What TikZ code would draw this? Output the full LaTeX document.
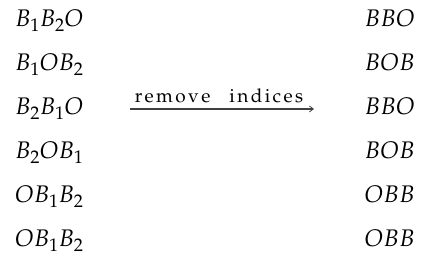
\documentclass[tikz,border=0pt]{standalone}
\usepackage[T1]{fontenc}
\usepackage{mathpazo}
\usetikzlibrary{arrows.meta}
\newcommand{\ls}[1]{\kern#1}
\begin{document}
\begin{tikzpicture}[x=1pt,y=1pt,
  word/.style={inner sep=0pt, font=\fontsize{24}{28}\selectfont},
  lbl/.style={inner sep=0pt, font=\fontsize{19}{22}\selectfont},
  mapto/.style={draw=black!75, line width=1.3pt, -{Straight Barb[length=4pt,width=6pt,line width=0.8pt]}}]
\useasboundingbox (0,0) rectangle (432,260);
% source words (with indices)
\node[word, anchor=base west] (l1) at (15,233) {$B_1B_2O$};
\node[word, anchor=base west] (l2) at (15,189) {$B_1OB_2$};
\node[word, anchor=base west] (l3) at (15,145) {$B_2B_1O$};
\node[word, anchor=base west] (l4) at (15,101) {$B_2OB_1$};
\node[word, anchor=base west] (l5) at (15,57) {$OB_1B_2$};
\node[word, anchor=base west] (l6) at (15,13) {$OB_1B_2$};
% target words (indices removed)
\node[word, anchor=base east] (r1) at (415,233) {$BBO$};
\node[word, anchor=base east] (r2) at (415,189) {$BOB$};
\node[word, anchor=base east] (r3) at (415,145) {$BBO$};
\node[word, anchor=base east] (r4) at (415,101) {$BOB$};
\node[word, anchor=base east] (r5) at (415,57) {$OBB$};
\node[word, anchor=base east] (r6) at (415,13) {$OBB$};
% the map between the two columns
\coordinate (a0) at (130,151);
\coordinate (a1) at (314,151);
\draw[mapto] (a0) -- (a1);
\node[lbl, anchor=base] (lab) at (219,157) {r\ls{2.4pt}e\ls{2.4pt}m\ls{2.4pt}o\ls{2.4pt}v\ls{2.4pt}e\hspace{19pt}i\ls{2.4pt}n\ls{2.4pt}d\ls{2.4pt}i\ls{2.4pt}c\ls{2.4pt}e\ls{2.4pt}s};
\end{tikzpicture}
\end{document}
